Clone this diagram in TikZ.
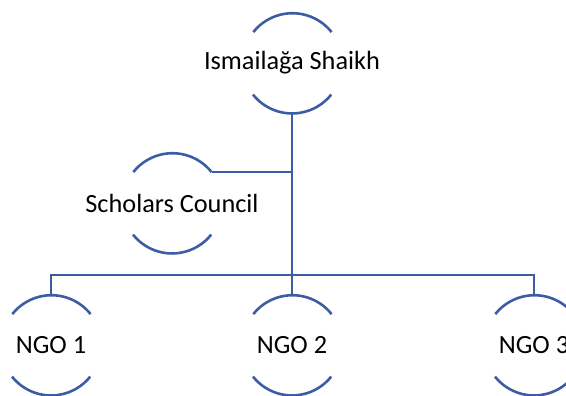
\documentclass[tikz,border=0pt]{standalone}
\usepackage{fontspec}
\setmainfont{Carlito}
\definecolor{orgblue}{HTML}{3C5DA6}
\begin{document}
\begin{tikzpicture}[x=1pt,y=1pt,
  hub/.style={circle, minimum size=100pt, inner sep=0pt, draw=none},
  ring/.style={draw=orgblue, line width=2.6pt},
  link/.style={draw=orgblue, line width=2.4pt},
  caption/.style={font=\fontsize{26.3}{30}\selectfont, inner sep=0pt, text=black}]
\useasboundingbox (0,0) rectangle (566,-396);
\clip (0,0) rectangle (566,-396);

% position holders for each member
\node[hub] (shaikh)   at (292,-63)  {};
\node[hub] (scholars) at (172,-203) {};
\node[hub] (ngo1)     at (51,-345)  {};
\node[hub] (ngo2)     at (292,-345) {};
\node[hub] (ngo3)     at (534,-345) {};
\coordinate (bus) at (292,-275);

% connectors
\draw[link] (shaikh.south) -- (bus);
\draw[link] (scholars.38.5) -- (scholars.38.5 -| shaikh.south);
\draw[link] (ngo1.north) |- (bus) -| (ngo3.north);
\draw[link] (ngo2.north) -- (bus);

% open rings: upper and lower arcs only
\foreach \n in {shaikh,scholars,ngo1,ngo2,ngo3}{
  \draw[ring] (\n.38.5) arc[start angle=38.5, end angle=141.5, radius=50pt];
  \draw[ring] (\n.-141.5) arc[start angle=-141.5, end angle=-38.5, radius=50pt];
}

% names
\node[caption] (shaikhtxt)   at (shaikh)   {Ismailağa Shaikh};
\node[caption] (scholarstxt) at (scholars) {Scholars Council};
\node[caption] (ngo1txt)     at (ngo1)     {NGO 1};
\node[caption] (ngo2txt)     at (ngo2)     {NGO 2};
\node[caption] (ngo3txt)     at (ngo3)     {NGO 3};
\end{tikzpicture}
\end{document}
